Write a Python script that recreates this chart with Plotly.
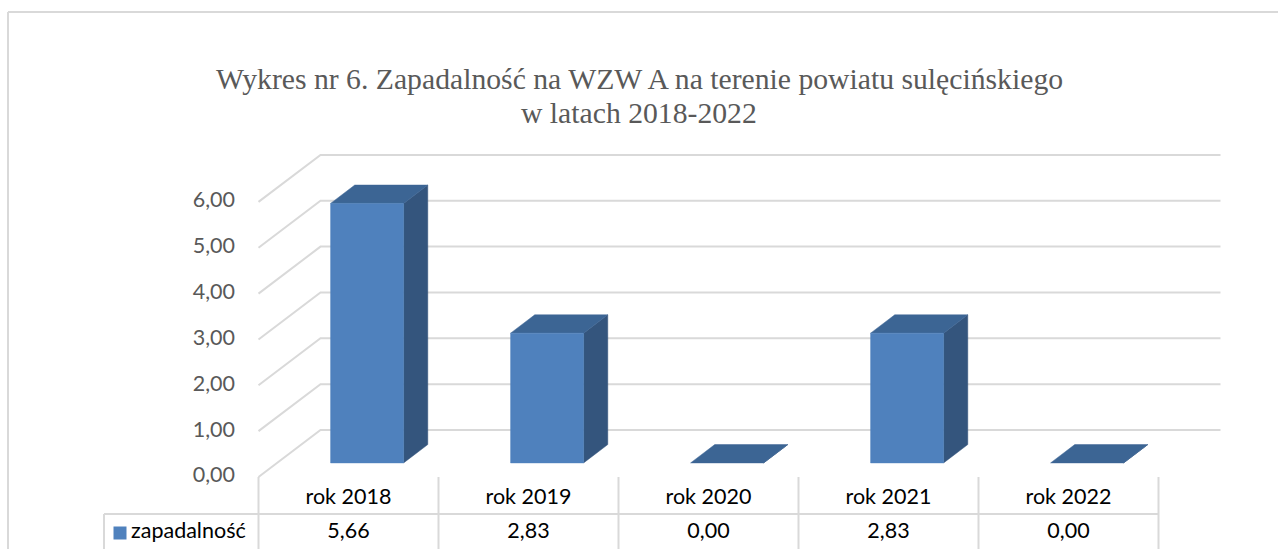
import plotly.graph_objects as go

# ---------------- data ----------------
categories = ["rok 2018", "rok 2019", "rok 2020", "rok 2021", "rok 2022"]
values = [5.66, 2.83, 0.00, 2.83, 0.00]
value_labels = ["5,66", "2,83", "0,00", "2,83", "0,00"]
series_name = "zapadalność"
tick_values = [0, 1, 2, 3, 4, 5, 6]
tick_labels = ["0,00", "1,00", "2,00", "3,00", "4,00", "5,00", "6,00"]
title_lines = ["Wykres nr 6. Zapadalność na WZW A na terenie powiatu sulęcińskiego",
               "w latach 2018-2022"]

# ---------------- geometry (style constants) ----------------
W, H = 1278, 549
CELL = 180.0      # px per category
UNIT = 45.85      # px per value unit
X_LEFT = 258.5    # px of left edge of first category cell
Y_ZERO = 477.0    # px of front floor edge


def xu(px):
    return (px - X_LEFT) / CELL - 0.5


def vu(py):
    return (Y_ZERO - py) / UNIT


DEPTH_X = 62 / CELL
DEPTH_Y = 47 / UNIT
BAR_HALF = 36.5 / CELL
D_FRONT, D_BACK = 0.30, 0.69
N = len(categories)

FRONT_C = "#4F81BD"
TOP_C = "#3C6594"
SIDE_C = "#34557D"
GRID_C = "#D9D9D9"
TICK_C = "#595959"
TXT_SIZE = 21.5

fig = go.Figure()

# gridlines: left wall diagonal + back wall horizontal
x_front_left = -0.5
x_back_left = -0.5 + DEPTH_X
x_back_right = N - 0.5 + DEPTH_X
for t in tick_values:
    fig.add_trace(go.Scatter(
        x=[x_front_left, x_back_left, x_back_right],
        y=[t, t + DEPTH_Y, t + DEPTH_Y],
        mode="lines", line=dict(color=GRID_C, width=2),
        hoverinfo="skip", showlegend=False))

# 3D bars
dx = (D_BACK - D_FRONT) * DEPTH_X
dy = (D_BACK - D_FRONT) * DEPTH_Y
for i, v in enumerate(values):
    fl = i - BAR_HALF + D_FRONT * DEPTH_X
    fr = i + BAR_HALF + D_FRONT * DEPTH_X
    base = D_FRONT * DEPTH_Y
    top = base + v
    # side
    fig.add_trace(go.Scatter(
        x=[fr, fr, fr + dx, fr + dx, fr], y=[base, top, top + dy, base + dy, base],
        mode="lines", fill="toself", fillcolor=SIDE_C,
        line=dict(color=SIDE_C, width=0.5), hoverinfo="skip", showlegend=False))
    # top
    fig.add_trace(go.Scatter(
        x=[fl, fr, fr + dx, fl + dx, fl], y=[top, top, top + dy, top + dy, top],
        mode="lines", fill="toself", fillcolor=TOP_C,
        line=dict(color=TOP_C, width=0.5), hoverinfo="skip", showlegend=False))
    # front
    if v > 0:
        fig.add_trace(go.Scatter(
            x=[fl, fr, fr, fl, fl], y=[base, base, top, top, base],
            mode="lines", fill="toself", fillcolor=FRONT_C,
            line=dict(color=FRONT_C, width=0.5), name=series_name,
            hovertemplate="%{fullData.name}: " + value_labels[i] + "<extra></extra>",
            showlegend=False))

# value axis tick labels
fig.add_trace(go.Scatter(
    x=[xu(235)] * len(tick_values), y=tick_values, text=tick_labels,
    mode="text", textposition="middle left",
    textfont=dict(family="Lato", size=TXT_SIZE, color=TICK_C),
    hoverinfo="skip", showlegend=False))

# data table
ROW1 = vu(499)
ROW2 = vu(533)
fig.add_trace(go.Scatter(
    x=list(range(N)), y=[ROW1] * N, text=categories, mode="text",
    textfont=dict(family="Lato", size=TXT_SIZE, color="#000000"),
    hoverinfo="skip", showlegend=False))
fig.add_trace(go.Scatter(
    x=list(range(N)), y=[ROW2] * N, text=value_labels, mode="text",
    textfont=dict(family="Lato", size=TXT_SIZE, color="#000000"),
    hoverinfo="skip", showlegend=False))
# legend key in table
fig.add_trace(go.Scatter(
    x=[xu(120)], y=[ROW2], mode="markers",
    marker=dict(symbol="square", size=13, color=FRONT_C),
    hoverinfo="skip", showlegend=False))
fig.add_trace(go.Scatter(
    x=[xu(131)], y=[ROW2], text=[series_name], mode="text",
    textposition="middle right",
    textfont=dict(family="Lato", size=TXT_SIZE, color="#000000"),
    hoverinfo="skip", showlegend=False))

# table lines
shapes = []
line_style = dict(color=GRID_C, width=2)
table_top = vu(514)
bottom = vu(560)
shapes.append(dict(type="line", xref="x", yref="y", x0=xu(104), x1=N - 0.5,
                   y0=table_top, y1=table_top, line=line_style))
shapes.append(dict(type="line", xref="x", yref="y", x0=xu(104), x1=xu(104),
                   y0=table_top, y1=bottom, line=line_style))
for k in range(N + 1):
    shapes.append(dict(type="line", xref="x", yref="y", x0=k - 0.5, x1=k - 0.5,
                       y0=0, y1=bottom, line=line_style))
# outer chart border
shapes.append(dict(type="line", xref="paper", yref="paper", x0=8 / W, x1=1.01,
                   y0=1 - 12 / H, y1=1 - 12 / H, line=line_style))
shapes.append(dict(type="line", xref="paper", yref="paper", x0=8 / W, x1=8 / W,
                   y0=1 - 12 / H, y1=-0.01, line=line_style))

# title lines
annotations = []
for txt, ypx in zip(title_lines, [79, 113]):
    annotations.append(dict(text=txt, xref="paper", yref="paper", x=0.5, y=1 - ypx / H,
                            xanchor="center", yanchor="middle", showarrow=False,
                            font=dict(family="Liberation Serif", size=29.7, color=TICK_C)))

fig.update_layout(
    width=W, height=H,
    margin=dict(l=0, r=0, t=0, b=0),
    paper_bgcolor="white", plot_bgcolor="white",
    xaxis=dict(range=[xu(0), xu(W)], visible=False, fixedrange=True),
    yaxis=dict(range=[vu(H), vu(0)], visible=False, fixedrange=True),
    shapes=shapes, annotations=annotations,
    showlegend=False,
)

fig.write_html("out.html", config={"displayModeBar": False},
               post_script="document.body.style.margin='0';")
